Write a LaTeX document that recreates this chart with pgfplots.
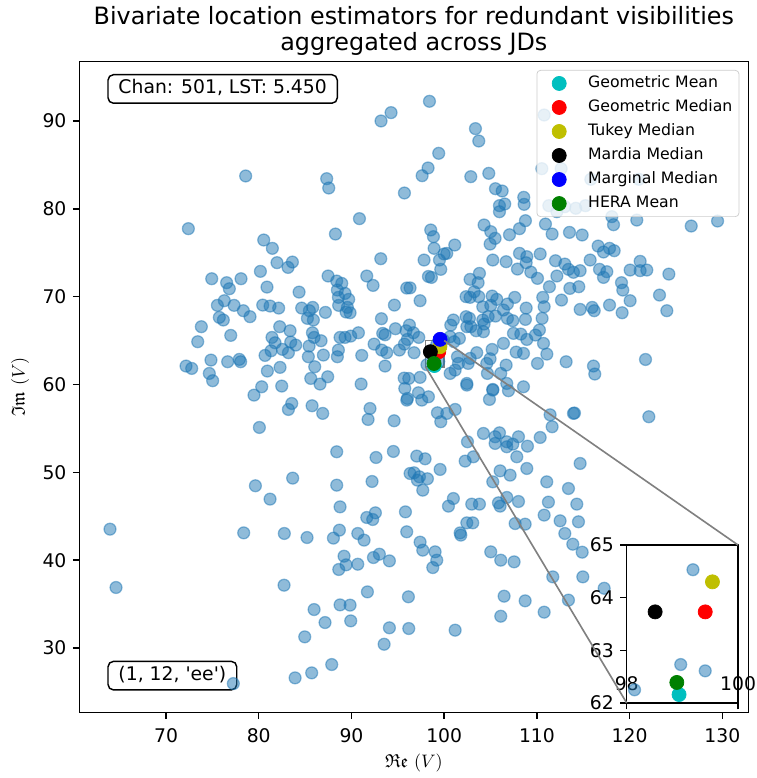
\documentclass[border=0pt]{standalone}
\usepackage{amssymb}
\usepackage{fontspec}
\setmainfont{DejaVu Sans}
\usepackage{pgfplots}
\pgfplotsset{compat=1.18}
\usepackage{pgfplotstable}
\definecolor{tabblue}{HTML}{1F77B4}
\definecolor{mplc}{rgb}{0,0.75,0.75}
\definecolor{mply}{rgb}{0.75,0.75,0}
\definecolor{mplg}{rgb}{0,0.5,0}

\pgfplotstableread{
x y
93.19 90.00
94.27 90.95
78.59 83.74
87.33 83.43
87.55 82.37
95.71 81.80
72.41 77.74
90.86 78.88
88.27 77.13
80.54 76.45
81.47 75.50
93.16 74.32
81.97 73.87
83.63 73.94
83.16 73.33
80.18 72.88
74.93 72.04
76.54 71.59
76.83 70.90
78.09 72.04
80.89 71.09
87.48 72.35
88.41 71.78
88.95 71.51
91.65 72.35
92.33 71.28
84.35 70.52
88.48 70.75
89.31 70.37
88.59 69.92
89.70 69.69
88.62 69.01
89.56 68.78
89.85 68.17
89.42 68.25
95.96 70.98
94.63 69.04
75.54 69.01
76.29 69.54
77.34 69.01
78.34 68.40
79.06 67.72
75.75 67.64
76.18 67.34
80.43 69.04
81.22 68.93
82.15 68.70
84.63 68.70
85.46 68.40
85.82 68.78
85.25 67.53
85.89 67.34
87.19 68.21
93.23 67.49
73.81 66.58
73.42 64.87
76.98 65.59
82.26 66.58
83.38 66.12
81.43 65.36
81.76 64.75
80.68 63.31
81.33 63.84
82.55 64.00
83.20 63.62
83.45 64.83
83.99 64.49
85.79 65.89
85.97 65.36
86.72 64.98
85.43 64.37
85.35 63.16
86.97 63.35
88.59 63.92
88.48 63.16
88.77 65.36
89.31 65.36
89.92 65.51
90.75 65.89
91.11 63.31
92.44 64.60
93.26 63.92
93.80 63.62
93.37 65.82
93.62 65.66
94.74 66.35
95.17 63.92
95.71 64.60
72.16 62.10
72.77 61.83
74.85 62.78
74.67 61.26
75.03 60.43
76.65 62.59
77.91 62.86
78.05 62.59
80.93 61.53
82.30 61.95
85.61 60.69
86.04 62.02
86.61 60.05
87.44 60.88
93.62 62.10
95.68 60.73
91.04 60.05
80.32 59.74
82.48 59.82
98.41 92.24
103.37 89.13
103.73 87.72
99.41 86.32
98.26 84.65
97.62 83.77
102.87 83.66
104.81 84.04
105.53 82.29
106.25 82.03
108.58 81.31
108.62 80.51
105.96 80.36
106.53 80.55
105.96 79.67
108.76 78.65
104.30 78.16
108.12 77.74
110.92 78.27
110.78 90.68
110.53 84.57
112.61 84.57
115.81 83.36
120.99 83.36
111.28 80.36
112.15 79.67
113.01 80.24
114.19 80.06
115.24 80.36
118.08 79.11
118.26 78.19
120.77 78.72
126.64 78.04
129.48 78.61
98.55 77.59
98.84 76.83
105.02 77.40
105.49 76.64
104.95 75.99
107.04 77.05
111.64 77.13
113.51 77.32
114.88 77.02
116.60 75.76
117.18 75.08
117.83 75.50
118.33 75.23
101.14 75.88
98.91 75.50
99.49 74.17
99.99 74.86
100.28 74.93
97.83 74.17
99.63 73.11
98.62 72.19
98.30 72.30
96.32 71.00
97.40 69.54
105.24 74.17
106.68 73.98
108.12 74.93
108.91 74.55
108.84 73.86
110.35 74.86
112.00 74.09
113.01 73.71
113.40 73.11
113.94 72.77
114.66 72.96
115.74 74.17
116.75 73.11
117.54 72.84
117.18 72.19
107.90 73.14
109.34 72.80
110.06 72.08
112.15 72.35
111.35 71.13
113.55 70.94
114.52 71.13
119.12 71.59
119.26 70.75
120.05 69.54
121.13 74.02
120.05 73.03
121.13 72.96
121.85 73.03
124.23 72.57
123.22 70.18
124.01 68.40
121.71 62.85
116.10 62.10
116.24 61.19
117.83 69.04
119.19 68.17
114.66 68.55
115.96 68.78
116.18 68.40
112.65 69.61
110.63 69.92
110.78 68.85
107.61 69.92
106.82 69.16
105.67 69.69
105.17 70.07
105.02 69.01
104.16 68.85
103.73 70.00
102.79 69.92
102.36 70.00
103.80 72.65
102.79 71.97
103.66 71.59
103.23 70.56
104.74 67.72
105.53 67.79
106.39 68.48
106.82 67.53
104.16 67.34
107.40 67.26
108.84 68.70
108.76 67.41
110.56 67.53
102.36 67.72
102.72 67.53
100.99 67.34
100.71 66.76
96.25 66.77
95.89 66.12
96.68 65.89
96.03 65.13
96.75 63.62
96.18 60.69
97.40 60.81
100.64 65.44
101.07 64.87
101.64 65.25
102.44 66.58
102.87 66.58
103.44 66.12
104.23 66.01
104.30 66.88
107.47 65.82
108.26 65.74
108.91 65.13
109.84 65.63
110.27 66.20
110.71 64.68
111.07 63.46
107.76 63.69
108.55 63.54
106.39 64.68
105.17 63.99
103.51 63.62
102.80 62.97
101.43 63.16
101.54 62.40
101.18 61.64
102.58 62.40
104.59 62.40
104.95 62.93
106.68 62.21
104.66 61.26
106.10 61.26
110.06 62.40
113.15 62.59
108.55 59.74
102.44 60.12
105.24 59.44
99.92 65.06
97.26 65.36
100.64 61.26
79.49 58.79
95.75 59.55
95.97 58.22
83.20 57.16
83.56 57.84
85.75 57.58
86.90 56.71
80.07 55.11
92.00 57.27
91.79 56.02
94.60 55.87
88.41 52.34
92.65 51.69
94.52 52.38
79.64 48.47
81.22 46.95
83.66 49.34
88.41 48.54
92.22 48.96
96.32 49.87
88.77 46.07
91.65 44.86
92.29 44.63
92.58 45.39
95.82 45.50
63.96 43.53
78.38 43.11
82.76 43.04
85.21 42.58
88.05 42.51
88.70 43.42
90.68 43.04
91.36 42.28
95.96 43.23
89.20 40.45
88.63 38.94
89.42 39.47
90.68 39.54
92.37 40.30
93.01 40.68
94.09 39.92
64.61 36.89
82.73 37.15
91.72 36.39
96.14 35.83
85.97 34.38
88.77 34.91
89.85 34.88
87.15 32.90
89.92 33.09
84.96 31.27
94.09 32.30
96.18 32.22
93.52 30.43
87.87 28.12
85.71 27.17
83.92 26.60
77.26 25.95
102.44 59.93
96.03 58.41
97.22 59.06
97.58 58.22
98.30 58.60
105.24 59.36
104.88 58.30
106.93 59.29
106.75 60.12
99.27 56.78
99.63 55.76
100.28 56.71
101.18 57.16
111.42 56.55
111.64 55.19
113.94 56.71
114.05 56.75
104.23 54.43
105.49 54.05
105.96 54.50
105.49 53.29
106.75 53.48
107.40 53.21
106.75 52.91
108.01 54.05
108.98 52.98
110.35 53.97
102.51 53.48
102.26 51.28
103.15 51.77
107.83 51.77
108.91 50.44
106.03 50.17
107.11 49.68
105.24 48.92
114.66 51.01
111.06 48.92
113.40 48.16
114.30 46.38
114.48 44.37
111.24 46.61
110.78 45.13
112.50 44.48
113.01 43.04
113.87 41.82
114.88 40.91
97.04 51.85
97.94 51.54
99.56 50.33
96.75 49.95
97.33 49.49
98.19 49.27
97.69 47.97
97.11 49.11
100.99 47.02
100.46 46.15
102.97 46.38
103.80 46.38
105.85 46.53
106.03 46.15
106.75 47.14
108.01 46.68
97.40 42.05
97.69 41.14
99.02 40.95
99.20 40.00
98.77 39.16
101.72 43.11
101.79 42.85
102.44 44.25
103.08 44.25
105.02 40.95
106.10 40.00
107.54 39.81
107.65 44.17
108.73 44.10
111.71 38.10
114.95 38.10
106.46 35.90
108.73 35.37
106.10 33.62
110.78 34.08
113.40 35.45
101.18 32.03
122.07 56.33
117.25 36.80
99.19 64.53
98.97 62.73
99.41 62.61
98.14 62.25
}\maindata

\pgfplotsset{
  mplaxis/.style={
    scale only axis,
    tick pos=left,
    tick align=outside,
    major tick length=3.6pt,
    axis line style={line width=0.8pt},
    every tick/.style={black, line width=0.8pt},
    tick label style={font=\fontsize{10.4}{12.5}\selectfont},
    /pgf/number format/assume math mode=true,
  },
  scat/.style={only marks, mark=*, mark size=3.3pt,
    mark options={fill=tabblue, draw=tabblue, fill opacity=0.5, draw opacity=0.5, line width=0.7pt}},
  est/.style={only marks, mark=*, mark size=3.9pt, color=#1, mark options={fill=#1, draw=#1}},
}

\begin{document}
\begin{tikzpicture}
\begin{axis}[mplaxis, name=main, at={(0,0)}, anchor=south west,
  width=370.5pt, height=360.3pt,
  xmin=60.65, xmax=132.8, ymin=22.68, ymax=96.75,
  xtick={70,80,...,130}, ytick={30,40,...,90},
  x tick label style={yshift=-2pt},
  xlabel={$\mathfrak{Re}\ (V)$},
  ylabel={$\mathfrak{Im}\ (V)$},
  xlabel style={at={(axis description cs:0.5,-0.078)}, anchor=center, font=\fontsize{10.4}{12.5}\selectfont},
  ylabel style={at={(axis description cs:-0.0885,0.5)}, anchor=center, font=\fontsize{10.4}{12.5}\selectfont},
  every axis title shift=0pt,
  title={Bivariate location estimators for redundant visibilities\\aggregated across JDs},
  title style={at={(axis description cs:0.5,1)}, anchor=south, align=center, inner sep=0pt, yshift=3.1pt, font=\fontsize{13.2}{14.7}\selectfont},
  legend cell align=left,
  legend image code/.code={\path[draw=none, fill=none] (0pt,0pt) -- (24.75pt,0pt); \draw[#1, fill opacity=1, draw opacity=1] plot coordinates {(8.7pt,0pt)};},
  legend style={at={(1,1)}, anchor=north east, xshift=-5pt, yshift=-4.6pt,
    draw=black!20, rounded corners=2pt, fill=white, fill opacity=0.8, text opacity=1,
    font=\fontsize{8.7}{10.5}\selectfont, inner xsep=3.65pt, inner ysep=0.6pt,
    nodes={inner ysep=2.3pt, inner xsep=0pt, text height=6.6pt, text depth=2.1pt}, row sep=0pt, column sep=0pt},
]
\addplot[scat, forget plot] table[x=x, y=y] {\maindata};
\draw[gray, line width=0.9pt] (axis cs:98,62) rectangle (axis cs:100,65);
\coordinate (r1) at (axis cs:98,62);
\coordinate (r2) at (axis cs:100,65);
\addplot[est=mplc] coordinates {(98.94,62.16)};
\addlegendentry{Geometric Mean}
\addplot[est=red] coordinates {(99.41,63.73)};
\addlegendentry{Geometric Median}
\addplot[est=mply] coordinates {(99.54,64.30)};
\addlegendentry{Tukey Median}
\addplot[est=black] coordinates {(98.51,63.73)};
\addlegendentry{Mardia Median}
\addplot[est=blue] coordinates {(99.56,65.14)};
\addlegendentry{Marginal Median}
\addplot[est=mplg] coordinates {(98.90,62.39)};
\addlegendentry{HERA Mean}
\node[draw, line width=0.8pt, rounded corners=3pt, fill=white, anchor=north west, inner xsep=5.8pt, inner ysep=2.9pt, text height=0.76em, text depth=0.24em, font=\fontsize{10.4}{12.5}\selectfont]
  at (rel axis cs:0,1) [xshift=15.5pt, yshift=-6.8pt] {Chan: 501, LST: 5.450};
\node[draw, line width=0.8pt, rounded corners=3pt, fill=white, anchor=south west, inner xsep=5.8pt, inner ysep=2.9pt, text height=0.76em, text depth=0.24em, font=\fontsize{10.4}{12.5}\selectfont]
  at (rel axis cs:0,0) [xshift=15.5pt, yshift=12pt] {(1, 12, \textquotesingle ee\textquotesingle)};
\end{axis}

\begin{axis}[mplaxis, name=inset, at={(303.15pt,5.15pt)}, anchor=south west,
  width=61.64pt, height=87.5pt,
  xmin=98, xmax=100, ymin=62, ymax=65,
  xtick={98,100}, ytick={62,63,64,65},
  axis background/.style={fill=white},
  x tick label style={anchor=center, yshift=14.5pt},
  clip=true,
]
\addplot[scat] table[x=x, y=y] {\maindata};
\addplot[est=mplc] coordinates {(98.94,62.16)};
\addplot[est=red] coordinates {(99.41,63.73)};
\addplot[est=mply] coordinates {(99.54,64.30)};
\addplot[est=black] coordinates {(98.51,63.73)};
\addplot[est=blue] coordinates {(99.56,65.14)};
\addplot[est=mplg] coordinates {(98.90,62.39)};
\end{axis}

\draw[gray, line width=0.9pt] (r1) -- (inset.south west);
\draw[gray, line width=0.9pt] (r2) -- (inset.north east);

\pgfresetboundingbox
\path[use as bounding box] ([shift={(-43.92pt,-36.38pt)}]main.south west) rectangle ([shift={(4.26pt,34.17pt)}]main.north east);
\end{tikzpicture}
\end{document}
